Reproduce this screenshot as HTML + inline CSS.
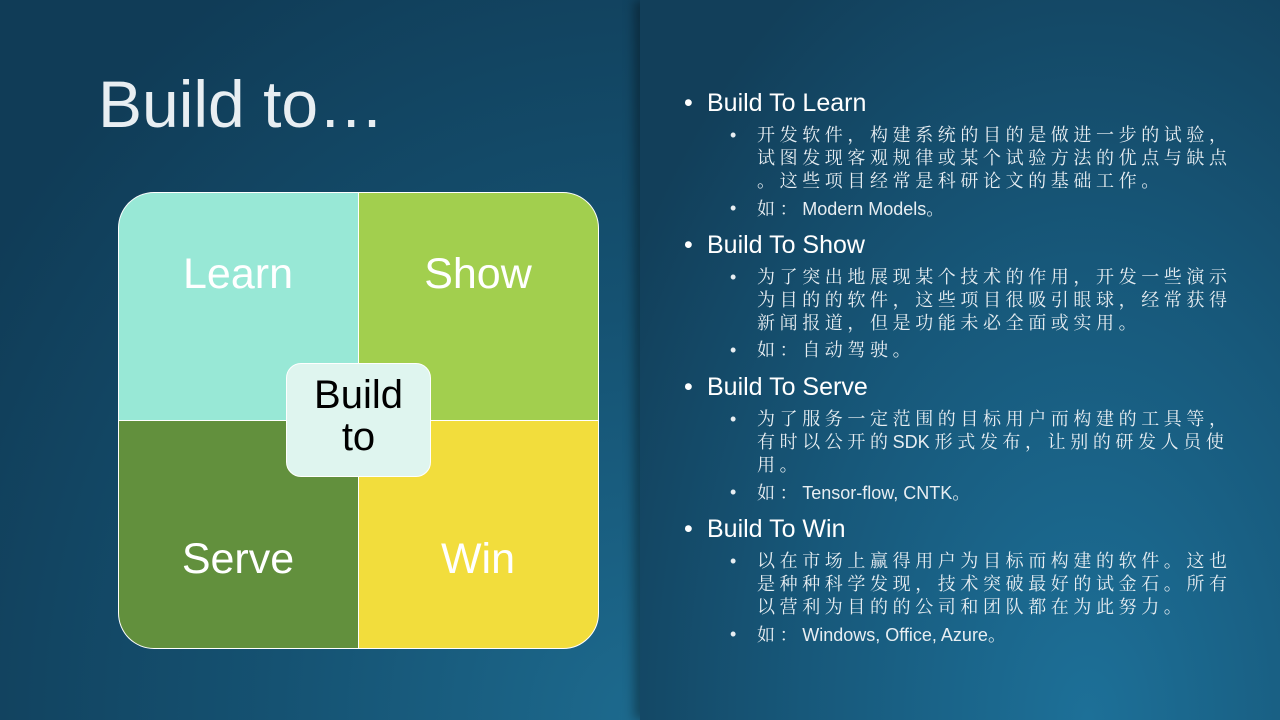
<!DOCTYPE html>
<html><head><meta charset="utf-8"><style>
*{margin:0;padding:0;box-sizing:border-box}
body{width:1280px;height:720px;overflow:hidden;position:relative;font-family:"Liberation Sans","Noto Sans CJK SC",sans-serif;
background:radial-gradient(ellipse at 95% 100%,#1f6f94 0%,#16506f 45%,#113f5a 80%);}
.left{position:absolute;left:0;top:0;width:640px;height:720px;background:radial-gradient(ellipse at 100% 100%,#1d6a8e 0%,#155272 40%,#103c57 85%);}
.right{position:absolute;left:640px;top:0;width:640px;height:720px;background:radial-gradient(ellipse at 70% 100%,#1d7098 0%,#17587a 45%,#123f5a 85%);box-shadow:-6px 0 10px rgba(0,0,0,.35);}
.title{position:absolute;left:98px;top:66px;font-size:66px;color:#e8eef2;}
.q{position:absolute;}
.lbl{position:absolute;color:#fff;font-size:43px;width:240px;text-align:center;}
.h{position:absolute;left:684px;font-size:25px;color:#fff;}
.h:before{content:"•";position:absolute;left:0;}
.h span{margin-left:23px}
.s{position:absolute;left:730px;font-family:"Liberation Serif","Noto Serif CJK SC",serif;font-size:18px;line-height:23px;color:#e8eef2;}
.s b{font-weight:normal;position:absolute;left:0;font-family:"Liberation Sans",sans-serif}
.s div{margin-left:27px;white-space:nowrap;letter-spacing:4.6px}
.s .l{font-family:"Liberation Sans","Noto Serif CJK SC",sans-serif;letter-spacing:0}
.s .l i{font-style:normal;letter-spacing:4.6px;font-family:"Noto Serif CJK SC",serif}
</style></head><body>
<div class="left"></div><div class="right"></div>
<div class="title">Build to…</div>
<div class="q" style="left:118px;top:192px;width:240px;height:228px;background:#98e8d6;border-radius:36px 0 0 0;border:1px solid #fff;border-right:none;border-bottom:none"></div>
<div class="q" style="left:358px;top:192px;width:241px;height:228px;background:#a2cf4e;border-radius:0 36px 0 0;border:1px solid #fff;border-bottom:none"></div>
<div class="q" style="left:118px;top:420px;width:240px;height:229px;background:#62903d;border-radius:0 0 0 36px;border:1px solid #fff;border-right:none"></div>
<div class="q" style="left:358px;top:420px;width:241px;height:229px;background:#f2dd3c;border-radius:0 0 36px 0;border:1px solid #fff"></div>
<div class="lbl" style="left:118px;top:250px">Learn</div>
<div class="lbl" style="left:358px;top:250px">Show</div>
<div class="lbl" style="left:118px;top:535px">Serve</div>
<div class="lbl" style="left:358px;top:535px">Win</div>
<div class="q" style="left:286px;top:363px;width:145px;height:114px;background:#dff5ef;border-radius:15px;color:#000;font-size:40px;line-height:42px;text-align:center;padding-top:10px;border:1px solid #fff">Build<br>to</div>

<div class="h" style="top:89px"><span>Build To Learn</span></div>
<div class="s" style="top:124px"><b>•</b><div>开发软件，构建系统的目的是做进一步的试验，</div><div>试图发现客观规律或某个试验方法的优点与缺点</div><div>。这些项目经常是科研论文的基础工作。</div></div>
<div class="s" style="top:197px"><b>•</b><div class="l"><i>如：</i>Modern Models。</div></div>

<div class="h" style="top:231px"><span>Build To Show</span></div>
<div class="s" style="top:266px"><b>•</b><div>为了突出地展现某个技术的作用，开发一些演示</div><div>为目的的软件，这些项目很吸引眼球，经常获得</div><div>新闻报道，但是功能未必全面或实用。</div></div>
<div class="s" style="top:339px"><b>•</b><div>如：自动驾驶。</div></div>

<div class="h" style="top:373px"><span>Build To Serve</span></div>
<div class="s" style="top:408px"><b>•</b><div>为了服务一定范围的目标用户而构建的工具等，</div><div>有时以公开的<span style="letter-spacing:0;font-family:'Liberation Sans',sans-serif">SDK </span>形式发布，让别的研发人员使</div><div>用。</div></div>
<div class="s" style="top:481px"><b>•</b><div class="l"><i>如：</i>Tensor-flow, CNTK。</div></div>

<div class="h" style="top:515px"><span>Build To Win</span></div>
<div class="s" style="top:550px"><b>•</b><div>以在市场上赢得用户为目标而构建的软件。这也</div><div>是种种科学发现，技术突破最好的试金石。所有</div><div>以营利为目的的公司和团队都在为此努力。</div></div>
<div class="s" style="top:623px"><b>•</b><div class="l"><i>如：</i>Windows, Office, Azure。</div></div>
</body></html>
